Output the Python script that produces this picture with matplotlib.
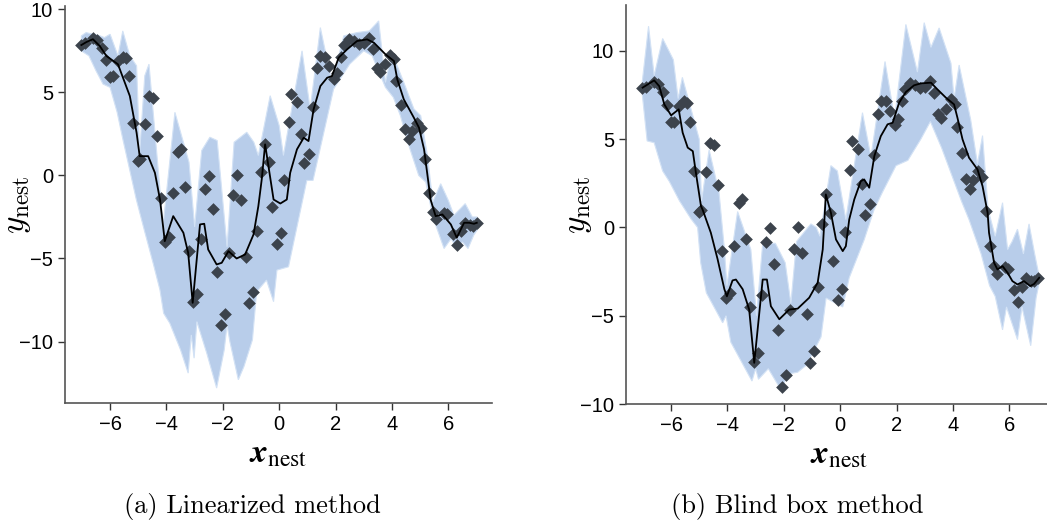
import numpy as np
from matplotlib import pyplot as plt

plt.rcParams['font.family'] = ['Liberation Sans', 'DejaVu Sans']

# observed data (same in both panels)
x_obs = [-7.02, -6.9, -6.6, -6.45, -6.3, -6.15, -6.0, -5.9, -5.72, -5.53, -5.45, -5.33,
         -5.17, -5.02, -4.95, -4.75, -4.62, -4.48, -4.34, -4.2, -4.06, -3.92, -3.76, -3.58,
         -3.48, -3.35, -3.19, -3.07, -2.93, -2.78, -2.63, -2.49, -2.36, -2.22, -2.08, -1.92,
         -1.78, -1.65, -1.51, -1.34, -1.19, -1.07, -0.94, -0.79, -0.65, -0.5, -0.35, -0.24,
         -0.08, 0.05, 0.18, 0.36, 0.43, 0.63, 0.77, 0.89, 1.04, 1.19, 1.34, 1.46,
         1.61, 1.78, 1.93, 2.05, 2.19, 2.31, 2.49, 2.64, 2.82, 3.0, 3.18, 3.33,
         3.48, 3.59, 3.75, 3.93, 4.07, 4.16, 4.31, 4.46, 4.6, 4.72, 4.9, 5.04,
         5.16, 5.3, 5.46, 5.58, 5.85, 5.97, 6.15, 6.3, 6.44, 6.6, 6.77, 6.89, 7.01]
y_obs = [7.88, 7.95, 8.25, 8.15, 7.7, 6.95, 5.95, 6.0, 6.88, 7.15, 7.05, 5.98,
         3.18, 0.85, 1.0, 3.12, 4.8, 4.65, 2.38, -1.35, -4.0, -3.7, -1.04, 1.4,
         1.6, -0.68, -4.52, -7.63, -7.13, -3.81, -0.84, -0.04, -2.05, -5.82, -9.02, -8.37,
         -4.66, -1.2, 0.0, -1.45, -4.9, -7.67, -6.99, -3.35, 0.22, 1.87, 0.8, -1.9,
         -4.1, -3.49, -0.26, 3.23, 4.88, 4.44, 2.47, 0.72, 1.31, 4.11, 6.45, 7.19,
         7.15, 6.59, 5.78, 6.14, 7.15, 7.85, 8.19, 8.09, 7.89, 7.95, 8.29, 7.63,
         6.45, 6.22, 6.73, 7.25, 6.99, 5.68, 4.22, 2.77, 2.17, 2.67, 3.17, 2.87,
         0.96, -1.06, -2.19, -2.61, -2.25, -2.35, -3.55, -4.2, -3.35, -2.85, -3.01, -3.05, -2.85]

# (a) linearized method
a_mean_x = [-7.02, -6.84, -6.61, -6.37, -6.13, -5.72, -5.3, -5.06, -4.95, -4.65, -4.41, -4.23,
            -4.06, -3.76, -3.4, -3.23, -3.07, -2.81, -2.66, -2.52, -2.22, -2.04, -1.8, -1.51,
            -1.21, -0.91, -0.74, -0.62, -0.5, -0.2, 0.04, 0.27, 0.39, 0.63, 0.87, 1.04,
            1.22, 1.46, 1.7, 1.87, 2.11, 2.41, 2.76, 3.12, 3.36, 3.77, 4.07, 4.19,
            4.42, 4.78, 4.96, 5.14, 5.31, 5.37, 5.55, 5.79, 6.09, 6.3, 6.56, 6.74, 6.91, 7.01]
a_mean_y = [7.85, 8.03, 8.2, 7.8, 7.19, 6.69, 4.78, 2.57, 1.16, 1.16, 0.16, -1.45,
            -3.96, -2.45, -3.45, -4.66, -7.67, -2.95, -2.91, -4.46, -5.36, -5.26, -4.56, -5.0,
            -4.76, -3.55, -1.85, -0.24, 1.87, -1.45, -1.69, -1.45, 0.16, 1.57, 2.27, 2.07,
            3.98, 5.38, 5.88, 5.98, 7.09, 7.59, 8.09, 8.19, 7.99, 7.29, 6.89, 5.78,
            4.58, 3.47, 2.87, 1.57, -0.64, -1.45, -2.45, -2.35, -2.95, -3.75, -2.85, -2.85, -2.91, -2.85]
a_hi_x = [-7.02, -6.85, -6.6, -6.35, -6.2, -6.0, -5.72, -5.55, -5.3, -5.06, -4.95, -4.77,
          -4.62, -4.12, -3.7, -3.2, -3.0, -2.75, -2.46, -2.2, -1.85, -1.6, -1.15, -0.9,
          -0.74, -0.32, 0.0, 0.15, 0.81, 1.1, 1.46, 1.87, 2.29, 2.76, 3.2, 3.53,
          3.77, 4.0, 4.42, 4.78, 5.02, 5.26, 5.45, 5.73, 6.0, 6.2, 6.6, 6.85, 7.02]
a_hi_y = [8.4, 8.6, 8.5, 8.4, 8.3, 8.5, 7.2, 8.7, 7.2, 6.6, 1.4, 6.0,
          6.7, -3.0, 3.8, 0.8, -3.1, 1.5, 2.3, 2.1, -4.3, 2.0, 2.6, 2.0,
          1.2, 4.8, 3.0, 1.2, 7.5, 4.0, 8.9, 5.6, 8.4, 8.6, 8.7, 9.3,
          5.6, 7.4, 5.6, 4.0, 3.6, 1.2, -1.6, -0.5, -1.5, -2.4, -1.7, -2.5, -2.5]
a_lo_x = [-7.02, -6.75, -6.5, -6.25, -6.0, -5.75, -5.55, -5.3, -5.07, -4.77, -4.47, -4.23,
          -4.1, -3.88, -3.5, -3.23, -3.12, -3.02, -2.92, -2.57, -2.22, -1.95, -1.85, -1.75,
          -1.45, -1.25, -0.95, -0.8, -0.45, -0.2, -0.08, 0.33, 0.98, 1.2, 1.93, 2.5,
          3.0, 3.3, 3.77, 4.05, 4.3, 4.6, 4.95, 5.2, 5.45, 5.85, 6.1, 6.3, 6.5, 6.7, 6.9, 7.02]
a_lo_y = [7.5, 7.2, 6.3, 5.5, 5.3, 3.8, 2.2, 0.3, -1.45, -3.4, -5.3, -6.9,
          -8.3, -8.9, -10.5, -11.9, -9.6, -11.0, -8.8, -10.7, -12.8, -10.5, -9.0, -10.0,
          -12.3, -11.5, -9.9, -7.0, -6.3, -7.6, -5.7, -5.5, -0.3, -0.3, 5.2, 6.7,
          7.5, 7.2, 5.3, 4.7, 3.6, 1.8, 0.0, -0.4, -2.5, -4.4, -3.8, -4.4, -4.0, -4.4, -3.6, -3.3]

# (b) blind box method
b_mean_x = [-7.01, -6.6, -6.42, -6.24, -6.0, -5.73, -5.59, -5.41, -5.23, -5.12, -4.94, -4.88,
            -4.59, -4.35, -4.11, -4.02, -3.82, -3.7, -3.46, -3.23, -3.05, -2.75, -2.6, -2.46,
            -2.16, -1.81, -1.51, -1.1, -0.8, -0.62, -0.51, -0.33, -0.15, 0.09, 0.2, 0.32,
            0.5, 0.73, 0.85, 1.03, 1.21, 1.44, 1.68, 1.86, 2.09, 2.33, 2.62, 2.86,
            3.22, 3.45, 3.75, 4.04, 4.16, 4.34, 4.57, 4.87, 5.05, 5.23, 5.28, 5.46,
            5.58, 5.76, 5.94, 6.11, 6.29, 6.52, 6.74, 6.88, 7.06]
b_mean_y = [7.92, 8.33, 8.0, 6.97, 6.35, 6.69, 5.37, 4.52, 4.32, 3.1, 1.21, 1.0,
            -0.3, -1.8, -3.5, -3.9, -3.0, -2.95, -3.5, -4.65, -7.67, -2.95, -2.95, -4.46,
            -5.2, -4.65, -4.6, -3.98, -3.13, -1.25, 1.87, 0.83, -0.68, -1.34, -1.06, 0.45,
            1.59, 2.62, 2.72, 2.25, 4.04, 5.17, 5.84, 5.93, 7.06, 7.67, 8.05, 8.16,
            8.2, 7.82, 7.35, 6.97, 6.21, 4.99, 3.95, 3.29, 2.34, 0.83, -0.3, -2.0,
            -2.38, -2.19, -2.57, -3.04, -3.23, -3.04, -3.32, -3.2, -2.85]
b_hi_x = [-7.02, -6.8, -6.6, -6.3, -5.92, -5.75, -5.6, -5.0, -4.92, -4.65, -4.3, -4.11,
          -4.02, -3.64, -3.17, -2.97, -2.75, -2.3, -1.95, -1.75, -1.55, -1.04, -0.85, -0.72,
          -0.33, -0.1, 0.2, 0.79, 1.09, 1.59, 1.93, 2.33, 2.74, 2.98, 3.22, 3.51,
          3.93, 4.04, 4.22, 4.63, 4.87, 5.05, 5.25, 5.5, 5.76, 5.94, 6.1, 6.29, 6.5,
          6.7, 6.9, 7.05]
b_hi_y = [8.3, 11.4, 8.6, 10.7, 9.5, 7.3, 8.5, 5.0, 1.5, 4.4, 2.0, -1.2,
          -3.3, 0.9, -1.25, -5.0, -0.9, -0.9, -2.0, -4.3, -0.8, 0.2, 0.0, -0.5,
          3.5, 3.2, 0.45, 6.5, 4.0, 9.4, 6.2, 11.5, 8.8, 11.6, 10.2, 11.3,
          9.3, 7.3, 9.2, 6.1, 3.6, 5.2, 1.0, -0.5, 1.4, -1.25, -0.8, -0.1, -1.5,
          0.2, -1.5, -2.7]
b_lo_x = [-7.02, -6.85, -6.6, -6.3, -6.06, -5.7, -5.3, -5.06, -4.95, -4.75, -4.17, -4.05,
          -3.88, -3.13, -3.0, -2.9, -2.55, -2.1, -1.85, -1.51, -1.2, -0.68, -0.5, -0.15,
          0.09, 0.32, 0.85, 1.2, 1.5, 1.98, 2.4, 2.86, 3.2, 3.6, 3.95, 4.3,
          4.57, 5.0, 5.3, 5.5, 5.76, 5.9, 6.29, 6.45, 6.76, 6.95, 7.05]
b_lo_y = [7.5, 4.9, 4.8, 3.2, 2.6, 1.5, 0.5, 0.0, -2.0, -3.7, -5.4, -5.0,
          -6.5, -8.7, -8.0, -8.6, -8.0, -9.2, -8.3, -8.2, -7.8, -6.2, -4.0, -4.3,
          -4.5, -2.85, -0.7, 1.0, 2.0, 3.5, 3.8, 5.0, 6.0, 4.5, 3.0, 1.5,
          0.45, -1.5, -3.3, -3.9, -5.8, -4.5, -6.35, -4.5, -6.7, -4.0, -3.2]

band_color = '#b8cdea'
pt_color = '#3c434c'

fig = plt.figure(figsize=(10.47, 5.29), dpi=100)
ax1 = fig.add_axes([65 / 1047, 1 - 403 / 529, 427 / 1047, 397 / 529])
ax2 = fig.add_axes([626 / 1047, 1 - 404 / 529, 427 / 1047, 399 / 529])

panels = [
    (ax1, a_mean_x, a_mean_y, a_hi_x, a_hi_y, a_lo_x, a_lo_y, (-13.7, 10.2)),
    (ax2, b_mean_x, b_mean_y, b_hi_x, b_hi_y, b_lo_x, b_lo_y, (-10.0, 12.6)),
]

for ax, mx, my, hx, hy, lx, ly, ylim in panels:
    ax.fill(list(hx) + list(lx[::-1]), list(hy) + list(ly[::-1]),
            color=band_color, edgecolor='#d3e2f5', linewidth=0.8, zorder=1)
    ax.scatter(x_obs, y_obs, marker='D', s=42, color=pt_color, linewidths=0, zorder=2)
    ax.plot(mx, my, color='k', linewidth=1.3, zorder=3)

    ax.set_xlim(-7.6, 7.55)
    ax.set_ylim(*ylim)
    ax.set_xticks([-6, -4, -2, 0, 2, 4, 6])
    ax.set_yticks([-10, -5, 0, 5, 10])
    for side in ['top', 'right']:
        ax.spines[side].set_visible(False)
    for side in ['left', 'bottom']:
        ax.spines[side].set_color('#555555')
        ax.spines[side].set_linewidth(1.2)
    ax.tick_params(direction='out', length=5, width=1, colors='#333333',
                   labelsize=14.5, labelcolor='black')
    ax.set_xlabel(r'$\mathbfit{x}_{\mathrm{nest}}$', fontsize=24, math_fontfamily='stix')
    ax.set_ylabel(r'$y_{\mathrm{nest}}$', fontsize=24, math_fontfamily='cm')
    ax.xaxis.set_label_coords(0.5, -0.09)
    ax.yaxis.set_label_coords(-0.075, 0.5)

fig.text(252 / 1047, 1 - 507 / 529, '(a) Linearized method', fontfamily='cmr10',
         fontsize=19, ha='center', va='center')
fig.text(797 / 1047, 1 - 507 / 529, '(b) Blind box method', fontfamily='cmr10',
         fontsize=19, ha='center', va='center')

plt.savefig('out.png', dpi=100)
